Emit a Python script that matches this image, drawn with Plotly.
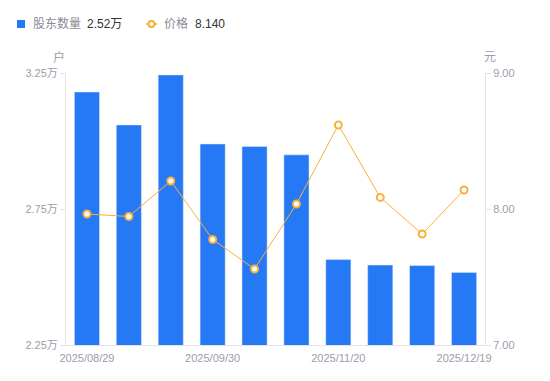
import plotly.graph_objects as go

dates = ["2025/08/29", "2025/09/10", "2025/09/19", "2025/09/30", "2025/10/20",
         "2025/10/31", "2025/11/20", "2025/11/28", "2025/12/10", "2025/12/19"]
holders = [3.180, 3.059, 3.243, 2.989, 2.980, 2.949, 2.564, 2.544, 2.542, 2.517]  # 万户
price = [7.963, 7.945, 8.206, 7.776, 7.559, 8.037, 8.618, 8.085, 7.816, 8.140]
shown_ticks = ["2025/08/29", "2025/09/30", "2025/11/20", "2025/12/19"]
left_ticks = [2.25, 2.75, 3.25]
left_labels = ["2.25万", "2.75万", "3.25万"]
right_ticks = [7.0, 8.0, 9.0]
right_labels = ["7.00", "8.00", "9.00"]
legend_names = ["股东数量", "价格"]
legend_values = ["2.52万", "8.140"]

BLUE = "#2679f5"
ORANGE = "#f9b03a"
GRAY = "#9c9cab"
LEG_GRAY = "#8a8a96"
DARK = "#333333"
AX = "#e3e3e8"
FONT = "Liberation Sans, Noto Sans CJK SC, sans-serif"

OFF = 8  # default page body margin
W, H = 550, 381
# plot area in page pixels: x 66..485, y 73..345
L, R, T, B = 66, 485, 73, 345
def px(x):
    return (x - L) / (R - L)
def py(y):
    return (B - y) / (B - T)

fig = go.Figure()
fig.add_trace(go.Bar(
    x=dates, y=holders, marker_color=BLUE, width=0.6, name=legend_names[0],
    yaxis="y",
))
fig.add_trace(go.Scatter(
    x=dates, y=price, mode="lines+markers", name=legend_names[1],
    line=dict(color=ORANGE, width=1),
    marker=dict(symbol="circle", size=7, color="white", line=dict(color=ORANGE, width=2)),
    yaxis="y2",
))

shapes = [
    dict(type="rect", xref="paper", yref="paper", x0=px(17), x1=px(25), y0=py(28), y1=py(20),
         fillcolor=BLUE, line=dict(width=0)),
    dict(type="line", xref="paper", yref="paper", x0=px(146), x1=px(157), y0=py(24), y1=py(24),
         line=dict(color=ORANGE, width=1.5)),
    dict(type="circle", xref="paper", yref="paper", x0=px(148.5), x1=px(154.5), y0=py(27), y1=py(21),
         fillcolor="white", line=dict(color=ORANGE, width=2)),
]

annotations = [
    dict(text=legend_names[0], x=px(31), y=py(24), xanchor="left", yanchor="middle",
         font=dict(size=12, color=LEG_GRAY)),
    dict(text=legend_values[0], x=px(85), y=py(24), xanchor="left", yanchor="middle",
         font=dict(size=12, color=DARK)),
    dict(text=legend_names[1], x=px(162), y=py(24), xanchor="left", yanchor="middle",
         font=dict(size=12, color=LEG_GRAY)),
    dict(text=legend_values[1], x=px(193), y=py(24), xanchor="left", yanchor="middle",
         font=dict(size=12, color=DARK)),
    dict(text="户", x=px(59), y=py(57), xanchor="center", yanchor="middle",
         font=dict(size=12, color=GRAY)),
    dict(text="元", x=px(490), y=py(57), xanchor="center", yanchor="middle",
         font=dict(size=12, color=GRAY)),
]
for a in annotations:
    a.update(xref="paper", yref="paper", showarrow=False)

fig.update_layout(
    width=W, height=H,
    margin=dict(l=L - OFF, r=W - (R - OFF), t=T - OFF, b=H - (B - OFF), autoexpand=False),
    paper_bgcolor="white", plot_bgcolor="white",
    font=dict(family=FONT, size=11, color=GRAY),
    showlegend=False,
    xaxis=dict(
        type="category", tickmode="array", tickvals=shown_ticks, ticktext=shown_ticks,
        showgrid=False, showline=True, linecolor=AX, linewidth=1,
        ticks="", ticklabelstandoff=3, tickfont=dict(size=11, color=GRAY), range=[-0.5, 9.5],
    ),
    yaxis=dict(
        range=[2.25, 3.25], tickvals=left_ticks, ticktext=left_labels,
        showgrid=False, showline=True, linecolor=AX, linewidth=1,
        ticks="outside", ticklen=5, tickcolor=AX, zeroline=False,
        tickfont=dict(size=11, color=GRAY),
    ),
    yaxis2=dict(
        range=[7.0, 9.0], tickvals=right_ticks, ticktext=right_labels,
        overlaying="y", side="right", anchor="x",
        showgrid=False, showline=True, linecolor=AX, linewidth=1,
        ticks="outside", ticklen=5, tickcolor=AX, zeroline=False,
        tickfont=dict(size=11, color=GRAY),
    ),
    shapes=shapes,
    annotations=annotations,
)

fig.write_html("out.html")
